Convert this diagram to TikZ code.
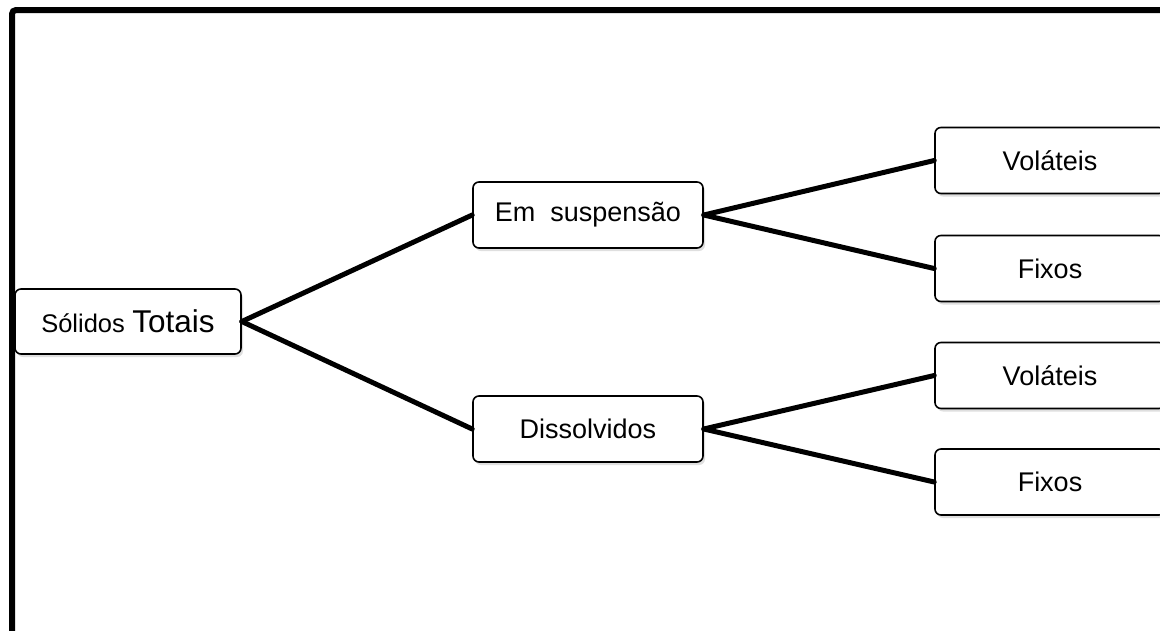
\documentclass[tikz,border=0pt]{standalone}
\usepackage{fontspec}
\setmainfont{Liberation Sans}
\usetikzlibrary{shadows}
\begin{document}
\begin{tikzpicture}[x=1pt,y=-1pt,
  box/.style={draw=black, line width=1.6pt, rounded corners=6pt, fill=white,
    minimum width=230pt, minimum height=66pt, inner sep=0pt,
    drop shadow={shadow xshift=2pt, shadow yshift=-3pt, opacity=0.25, fill=gray},
    font=\fontsize{27}{31}\selectfont},
  conn/.style={line width=5pt, line cap=round}]
\useasboundingbox (0,0) rectangle (1160,630);
\begin{scope}
\clip (0,0) rectangle (1160,630);
\draw[line width=6pt, rounded corners=4pt] (12,640) -- (12,10) -- (1170,10);
\node[box, minimum width=226pt, minimum height=65pt] (st) at (128,321.5)
  {{\fontsize{25.5}{29}\selectfont Sólidos} {\fontsize{31.5}{35}\selectfont Totais}};
\node[box] (es) at (588,215) {Em\ \ suspensão};
\node[box] (di) at (588,429) {Dissolvidos};
\node[box] (v1) at (1050,160.5) {Voláteis};
\node[box] (f1) at (1050,268.5) {Fixos};
\node[box] (v2) at (1050,375.5) {Voláteis};
\node[box] (f2) at (1050,482) {Fixos};
\draw[conn] (st.east) -- (es.west);
\draw[conn] (st.east) -- (di.west);
\draw[conn] (es.east) -- (v1.west);
\draw[conn] (es.east) -- (f1.west);
\draw[conn] (di.east) -- (v2.west);
\draw[conn] (di.east) -- (f2.west);
\end{scope}
\end{tikzpicture}
\end{document}
